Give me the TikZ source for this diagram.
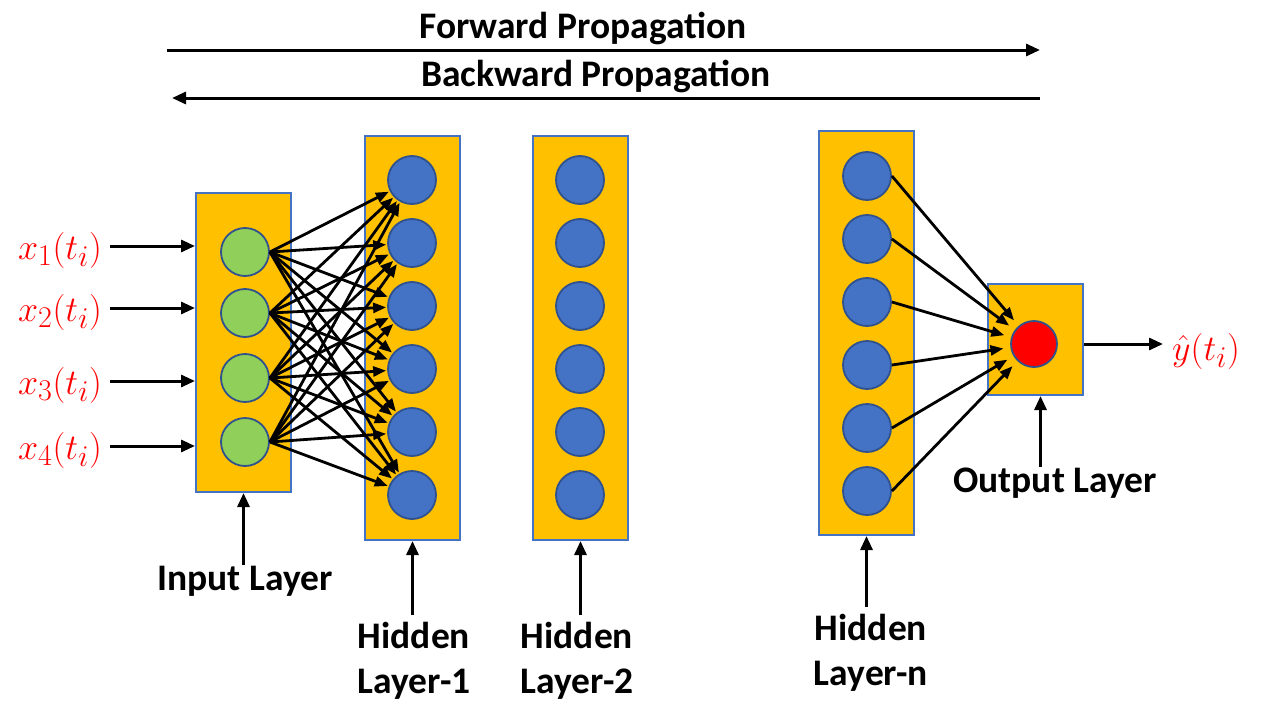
\documentclass[tikz,border=0pt]{standalone}
\usepackage{graphicx}
\usepackage[no-math]{fontspec}
\setmainfont{Carlito}
\usetikzlibrary{arrows.meta}

\definecolor{layergold}{HTML}{FFC000}
\definecolor{layeredge}{HTML}{4472C4}
\definecolor{unitblue}{HTML}{4472C4}
\definecolor{unitedge}{HTML}{2F528F}
\definecolor{unitgreen}{HTML}{8FCF5A}
\definecolor{labelred}{HTML}{FF0000}

% large red math labels (CM math scaled up from \Huge)
\newcommand{\bigvar}[1]{\scalebox{1.45}{\Huge$#1$}}

\begin{document}
\begin{tikzpicture}[x=1pt,y=-1pt,
  layerbox/.style={draw=layeredge, fill=layergold, line width=2pt, inner sep=0pt},
  unit/.style={circle, draw=unitedge, line width=1.8pt, minimum size=48pt, inner sep=0pt},
  inunit/.style={unit, fill=unitgreen},
  hidunit/.style={unit, fill=unitblue},
  outunit/.style={unit, fill=labelred, minimum size=46pt},
  arr/.style={line width=3pt, -{Triangle[length=14pt,width=12pt]}},
  link/.style={line width=2.8pt, -{Triangle[length=13pt,width=10pt]}},
  caption/.style={font=\fontsize{37.5}{45}\selectfont\bfseries, align=center, inner sep=0pt},
  var/.style={text=labelred, inner sep=0pt}]

\useasboundingbox (0,0) rectangle (1262,704);

% direction of propagation
\coordinate (fwd-start) at (167,50);
\coordinate (fwd-end)   at (1040,50);
\coordinate (bwd-start) at (1040,98);
\coordinate (bwd-end)   at (172,98);
\draw[arr] (fwd-start) -- (fwd-end);
\draw[arr] (bwd-start) -- (bwd-end);
\node[caption, anchor=base] (fwdtxt) at (583,38) {Forward Propagation};
\node[caption, anchor=base] (bwdtxt) at (596,86) {Backward Propagation};

% layer boxes
\node[layerbox, minimum width=95pt, minimum height=299pt] (inbox)  at (243.5,342.5) {};
\node[layerbox, minimum width=95pt, minimum height=404pt] (h1box)  at (412.5,338) {};
\node[layerbox, minimum width=95pt, minimum height=404pt] (h2box)  at (580.5,338) {};
\node[layerbox, minimum width=95pt, minimum height=404pt] (hnbox)  at (866.5,333) {};
\node[layerbox, minimum width=95pt, minimum height=111pt] (outbox) at (1035.5,339.5) {};

% units
\foreach \y [count=\i] in {252,313,378,442}
  \node[inunit] (in-\i) at (245,\y) {};
\foreach \y [count=\j] in {180,243,306,369,432,495} {
  \node[hidunit] (h1-\j) at (412,\y) {};
  \node[hidunit] (h2-\j) at (580,\y) {};
}
\foreach \y [count=\j] in {176,239,302,365,428,491}
  \node[hidunit] (hn-\j) at (867,\y) {};
\node[outunit] (outunit) at (1034,344) {};

% dense connections input -> hidden layer 1
\foreach \i in {1,...,4}
  \foreach \j in {1,...,6}
    \draw[link, shorten >=1pt] (in-\i.east) -- (h1-\j);

% hidden layer n -> output
\foreach \j in {1,...,6}
  \draw[link, shorten >=7pt] (hn-\j.east) -- (outunit);

% inputs
\foreach \y/\k in {250/1,312/2,385/3,450/4} {
  \node[var, anchor=east] (x\k) at (102,\y) {\bigvar{x_{\k}(t_i)}};
  \draw[arr] ([xshift=8pt,yshift=4pt]x\k.east) -- ([yshift=4pt]x\k.east -| inbox.west);
}

% output
\node[var, anchor=west] (yhat) at (1172,351) {\bigvar{\hat{y}(t_i)}};
\coordinate (yhat-in) at (1163,344);
\draw[arr] (outunit -| outbox.east) -- (yhat-in);

% layer captions
\node[caption, anchor=base] (incap)  at (245,590)  {Input Layer};
\node[caption, anchor=base] (h1cap)  at (414,693)  {Hidden\\Layer-1};
\node[caption, anchor=base] (h2cap)  at (577,693)  {Hidden\\Layer-2};
\node[caption, anchor=base] (hncap)  at (871,685)  {Hidden\\Layer-n};
\node[caption, anchor=base] (outcap) at (1055,492) {Output Layer};

\draw[arr] (inbox.south |- incap.north) -- (inbox.south);
\draw[arr] ([yshift=6pt]h1box.south |- h1cap.north) -- (h1box.south);
\draw[arr] ([yshift=6pt]h2box.south |- h2cap.north) -- (h2box.south);
\draw[arr] ([yshift=6pt]hnbox.south |- hncap.north) -- (hnbox.south);
\draw[arr] ([xshift=5pt]outbox.south |- outcap.north) -- ([xshift=5pt]outbox.south);

\end{tikzpicture}
\end{document}
